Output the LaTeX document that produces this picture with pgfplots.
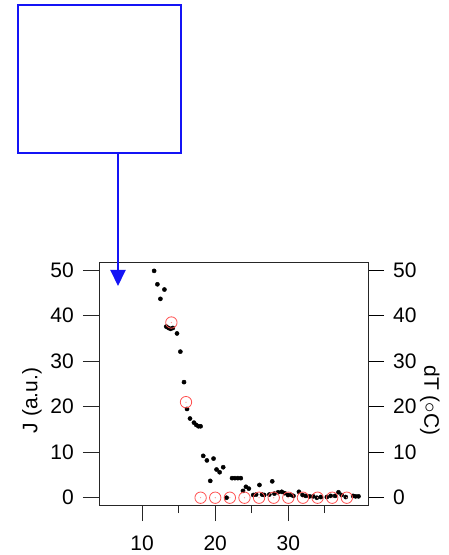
\documentclass[border=0pt]{standalone}
\usepackage{fontspec}
\setmainfont{Liberation Sans}
\usepackage{pgfplots}
\pgfplotsset{compat=1.18}
\usetikzlibrary{arrows.meta}

\definecolor{jred}{RGB}{255,80,80}
\definecolor{jblue}{RGB}{20,20,245}

\tikzset{tickline/.style={black!85, line width=0.8pt}}

\pgfplotsset{
  commonaxis/.style={
    scale only axis, width=269pt, height=243pt,
    at={(0,0)}, anchor=south west,
    xmin=4.1, xmax=40.9, ymin=-1.6, ymax=51.8,
    clip=false,
    tick align=outside,
    major tick length=16pt, minor tick length=8pt,
    tick style={black, line width=0.8pt},
    axis line style={line width=0.8pt, black!85},
    ytick={0,10,20,30,40,50},
    /pgf/number format/assume math mode=true,
    tick label style={font=\fontsize{21}{25}\selectfont},
    label style={font=\fontsize{21}{25}\selectfont},
  },
}

\begin{document}
\begin{tikzpicture}
\path[use as bounding box] (-99pt,-50pt) rectangle (350pt,505pt);

% J (a.u.), left axis
\begin{axis}[commonaxis,
  xtick={10,20,30}, minor xtick={15,25,35},
  xtick pos=left, ytick pos=left,
  xticklabel style={inner sep=0pt, yshift=-15pt},
  yticklabel style={inner sep=0pt, xshift=-9pt},
  ylabel={J (a.u.)},
  ylabel style={at={(axis description cs:-0.249,0.43)}, anchor=center},
]
% tick marks, drawn outward from the frame
\pgfplotsinvokeforeach{10,20,30}{
  \draw[tickline] (axis cs:#1,-1.6) -- ++(0pt,-16pt);
}
\pgfplotsinvokeforeach{15,25,35}{
  \draw[tickline] (axis cs:#1,-1.6) -- ++(0pt,-8pt);
}
\pgfplotsinvokeforeach{0,10,20,30,40,50}{
  \draw[tickline] (axis cs:4.1,#1) -- ++(-16pt,0pt);
  \draw[tickline] (axis cs:40.9,#1) -- ++(16pt,0pt);
}
\addplot[only marks, mark=*, mark size=2.1pt, black] coordinates {
 (11.64,49.85) (12.09,46.9) (12.5,43.7) (13.05,45.75)
 (13.3,37.6) (13.6,37.3) (13.9,37.1) (14.2,37.3)
 (14.77,36.1) (15.23,32.1) (15.73,25.4) (16.14,19.5)
 (16.55,17.4) (17.09,16.5) (17.4,16.0) (17.7,15.7) (18.0,15.7)
 (18.36,9.2) (18.86,8.2) (19.32,3.7) (19.77,8.6)
 (20.18,6.2) (20.6,5.6) (21.09,6.7) (21.55,0.0)
 (22.3,4.3) (22.7,4.3) (23.1,4.3) (23.5,4.3)
 (23.8,1.5) (24.2,2.4) (24.6,2.0)
 (25.2,0.6) (25.6,0.7) (26.05,2.8) (26.4,0.7) (26.7,0.6)
 (27.4,0.7) (27.8,3.6) (28.1,0.9) (28.6,1.2) (29.1,1.3)
 (29.5,1.0) (29.95,0.6) (30.4,0.6) (30.7,0.4)
 (31.45,1.3) (31.95,0.6) (32.4,0.4) (32.9,0.3) (33.4,0.3)
 (33.9,0.0) (34.45,0.15) (35.27,0.15) (35.8,0.4) (36.4,0.4)
 (36.86,1.2) (37.3,0.6) (37.86,0.15)
 (38.86,0.4) (39.2,0.3) (39.6,0.3)
};
\end{axis}

% dT (degC), right axis
\begin{axis}[commonaxis,
  hide x axis,
  axis y line*=right,
  ytick pos=right, yticklabel pos=right,
  yticklabel style={inner sep=0pt, xshift=9pt},
  ylabel={dT ($\circ$C)},
  ylabel style={at={(axis description cs:1.23,0.43)}, anchor=center, rotate=180},
]
\addplot[only marks, mark=o, mark size=5.7pt, jred, mark options={line width=0.8pt}] coordinates {
 (14,38.5) (16,21) (18,0) (20,0) (22,0) (24,0) (26,0)
 (28,0) (30,0) (32,0) (34,0) (36,0) (38,0)
};
\addplot[only marks, mark=*, mark size=0.35pt, jred!60] coordinates {
 (14,38.5) (16,21) (18,0) (20,0) (22,0) (24,0) (26,0)
 (28,0) (30,0) (32,0) (34,0) (36,0) (38,0)
};
\end{axis}

% annotation box with arrow into the plot
\draw[jblue, line width=2pt] (-81pt,352pt) rectangle (82pt,500pt);
\draw[jblue, line width=2pt, -{Triangle[width=15pt,length=16pt]}] (19pt,352pt) -- (19pt,219pt);
\end{tikzpicture}
\end{document}
